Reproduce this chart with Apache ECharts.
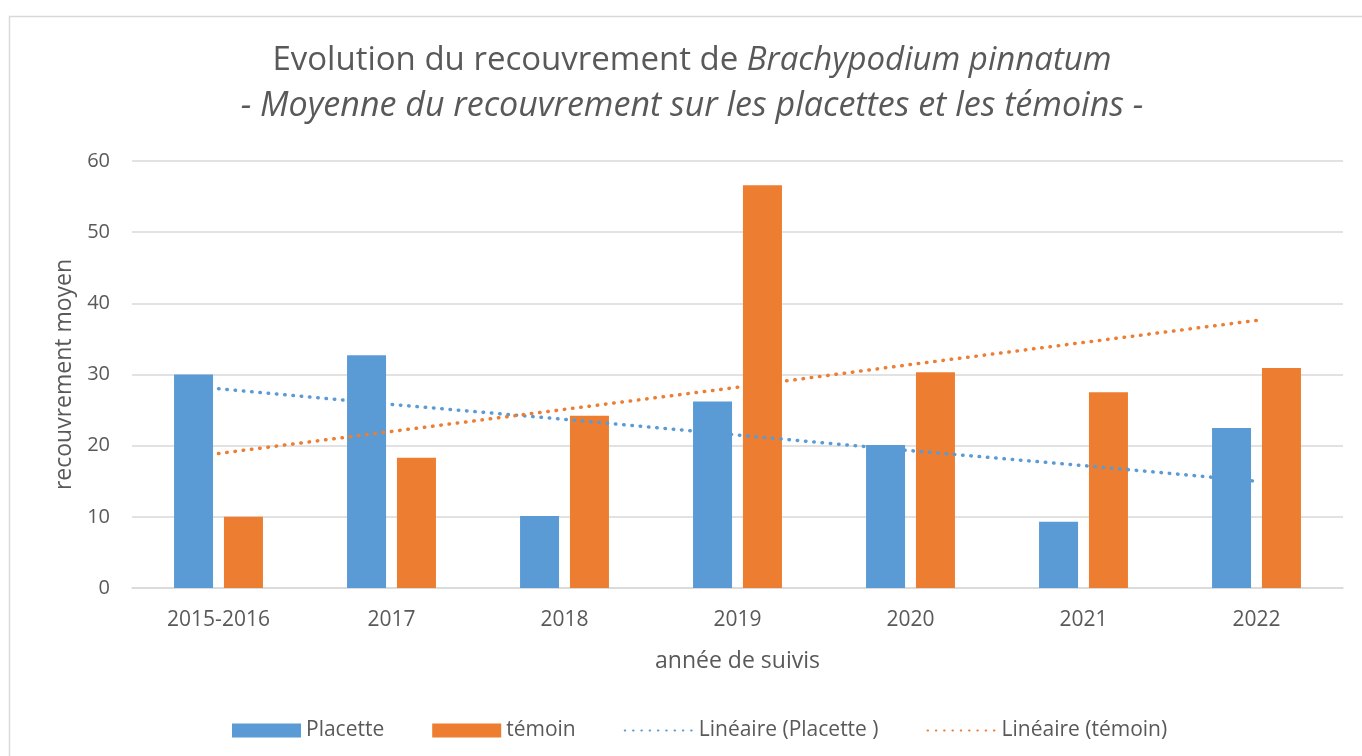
<!DOCTYPE html>
<html>
<head>
<meta charset="utf-8">
<script src="https://cdn.jsdelivr.net/npm/echarts@6/dist/echarts.min.js"></script>
<style>
  html, body { margin: 0; padding: 0; background: #fff; }
  #chart { width: 1362px; height: 756px; }
</style>
</head>
<body>
<div id="chart"></div>
<script>
const years = ['2015-2016', '2017', '2018', '2019', '2020', '2021', '2022'];
const placette = [30.0, 32.7, 10.1, 26.2, 20.1, 9.3, 22.5];
const temoin = [10.0, 18.3, 24.2, 56.6, 30.3, 27.5, 30.9];
// trend lines as drawn in the picture, read at each category
const trendPlacette = [28.0, 25.8, 23.7, 21.5, 19.3, 17.2, 15.0];
const trendTemoin = [18.9, 22.0, 25.1, 28.2, 31.4, 34.5, 37.6];

const font = '"Open Sans", Lato, sans-serif';
const grey = '#595959';
const blue = '#5B9BD5';
const orange = '#ED7D31';

const chart = echarts.init(document.getElementById('chart'), null, { renderer: 'canvas' });

const dotted = (color) => ({ color: color, width: 3.5, type: [0.5, 7.8], cap: 'round' });
const noSymbol = { color: 'rgba(0,0,0,0)', borderColor: 'rgba(0,0,0,0)', borderWidth: 0 };

chart.setOption({
    backgroundColor: '#fff',
    animation: false,
    textStyle: { fontFamily: font },
    graphic: [
        {
            type: 'rect', silent: true, z: -10,
            shape: { x: 9.5, y: 16.5, width: 1400, height: 800 },
            style: { fill: '#fff', stroke: '#D9D9D9', lineWidth: 1.5 }
        },
        {
            type: 'text', x: 692, y: 61,
            style: {
                text: '{n|Evolution du recouvrement de }{i|Brachypodium pinnatum}',
                align: 'center', verticalAlign: 'middle',
                rich: {
                    n: { fontFamily: font, fontSize: 33, fill: grey },
                    i: { fontFamily: font, fontSize: 33, fontStyle: 'italic', fill: grey }
                }
            }
        },
        {
            type: 'text', x: 692, y: 106,
            style: {
                text: '- Moyenne du recouvrement sur les placettes et les témoins -',
                align: 'center', verticalAlign: 'middle',
                fontFamily: font, fontSize: 34, fontStyle: 'italic', fill: grey
            }
        }
    ],
    legend: {
        bottom: 10,
        left: 227,
        itemWidth: 69,
        itemHeight: 14,
        itemGap: 48,
        textStyle: { fontSize: 21, color: grey, fontFamily: font },
        data: [
            { name: 'Placette', icon: 'rect' },
            { name: 'témoin', icon: 'rect' },
            { name: 'Linéaire (Placette )', itemStyle: noSymbol },
            { name: 'Linéaire (témoin)', itemStyle: noSymbol }
        ]
    },
    grid: { left: 132, right: 19, top: 161, bottom: 168 },
    xAxis: {
        type: 'category',
        data: years,
        name: 'année de suivis',
        nameLocation: 'middle',
        nameGap: 62,
        nameTextStyle: { fontSize: 23, color: grey, fontFamily: font },
        axisLine: { lineStyle: { color: '#D9D9D9', width: 1.5 } },
        axisTick: { show: false },
        axisLabel: { fontSize: 21, color: grey, margin: 22, fontFamily: font }
    },
    yAxis: {
        type: 'value',
        min: 0, max: 60, interval: 10,
        name: 'recouvrement moyen',
        nameLocation: 'middle',
        nameGap: 56,
        nameTextStyle: { fontSize: 23, color: grey, fontFamily: font },
        axisLine: { show: false },
        axisTick: { show: false },
        axisLabel: { fontSize: 20, color: grey, margin: 22, fontFamily: font },
        splitLine: { lineStyle: { color: '#D9D9D9', width: 1.5 } }
    },
    series: [
        {
            name: 'Placette', type: 'bar', data: placette,
            barWidth: 39, barGap: '28%',
            itemStyle: { color: blue }
        },
        {
            name: 'témoin', type: 'bar', data: temoin,
            barWidth: 39,
            itemStyle: { color: orange }
        },
        {
            name: 'Linéaire (Placette )', type: 'line', data: trendPlacette,
            showSymbol: false, symbol: 'none', z: 5,
            itemStyle: { color: blue },
            lineStyle: dotted(blue)
        },
        {
            name: 'Linéaire (témoin)', type: 'line', data: trendTemoin,
            showSymbol: false, symbol: 'none', z: 5,
            itemStyle: { color: orange },
            lineStyle: dotted(orange)
        }
    ]
});
</script>
</body>
</html>
